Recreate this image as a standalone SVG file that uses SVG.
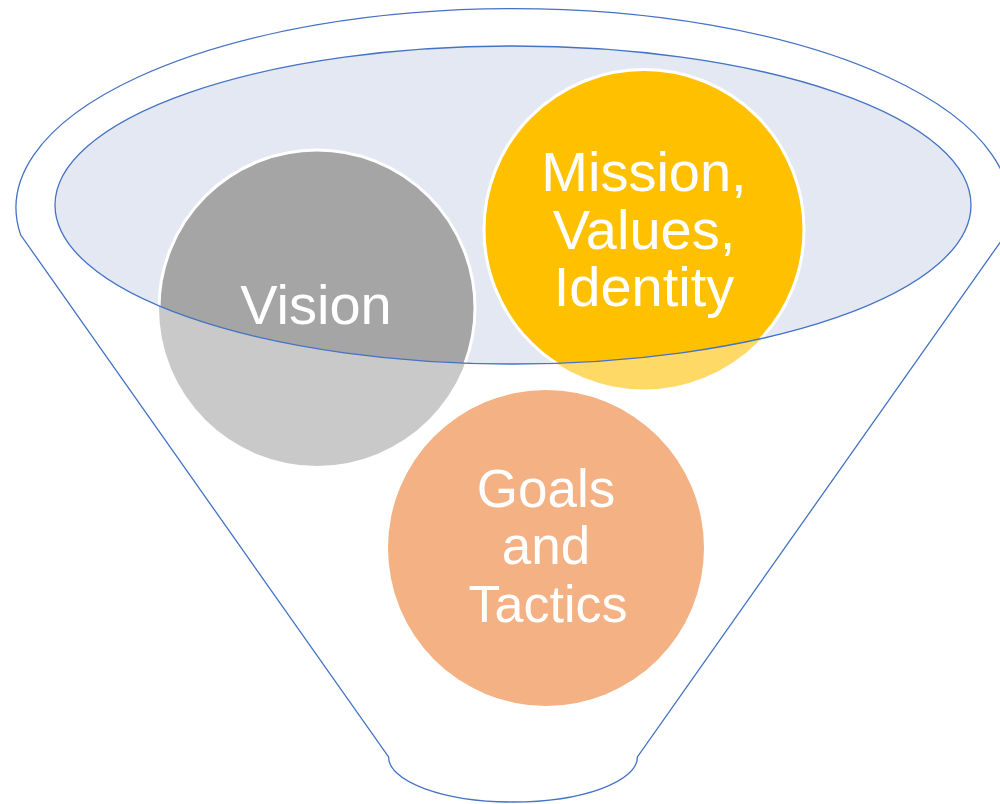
<svg xmlns="http://www.w3.org/2000/svg" width="1000" height="804" viewBox="0 0 1000 804">
  <defs>
    <style>
      .outline { fill: none; stroke: #4472c4; stroke-width: 1.3; }
      .disc { stroke: #ffffff; stroke-width: 3; }
      .label { font-family: "Liberation Sans", Arial, sans-serif; fill: #ffffff; text-anchor: middle; }
    </style>
    <!-- opening of the funnel; shapes inside it keep their full colour -->
    <clipPath id="mouth">
      <ellipse cx="513" cy="205" rx="458" ry="159"/>
    </clipPath>
  </defs>

  <rect width="1000" height="804" fill="#ffffff"/>

  <!-- funnel body -->
  <g id="funnel">
    <path d="M 20.7,235 A 497 199 0 1 1 1005.3,235 L 637.4,757 A 124.4 45 0 0 1 388.6,757 Z"
          fill="#ffffff" stroke="#4472c4" stroke-width="1.3"/>
    <ellipse id="mouth-fill" cx="513" cy="205" rx="458" ry="159" fill="#e3e8f3"/>
  </g>

  <g id="vision">
    <circle cx="317" cy="308" r="158" fill="#c9c9c9"/>
    <circle class="disc" cx="317" cy="308" r="158" fill="#a5a5a5" clip-path="url(#mouth)"/>
    <text class="label" x="316" y="324" font-size="56">Vision</text>
  </g>

  <g id="mission">
    <circle cx="644" cy="229.5" r="160" fill="#ffd966"/>
    <circle class="disc" cx="644" cy="229.5" r="160" fill="#ffc000" clip-path="url(#mouth)"/>
    <text class="label" x="644" y="191" font-size="56">Mission,</text>
    <text class="label" x="644" y="248.5" font-size="56">Values,</text>
    <text class="label" x="644" y="306" font-size="56">Identity</text>
  </g>

  <g id="goals">
    <circle cx="546" cy="548" r="158" fill="#f4b183"/>
    <text class="label" x="546" y="507" font-size="53">Goals</text>
    <text class="label" x="546" y="564" font-size="53">and</text>
    <text class="label" x="548" y="622" font-size="52">Tactics</text>
  </g>

  <!-- rim of the funnel opening, drawn over the circles -->
  <g id="connectors">
    <ellipse class="outline" cx="513" cy="205" rx="458" ry="159"/>
  </g>
</svg>
